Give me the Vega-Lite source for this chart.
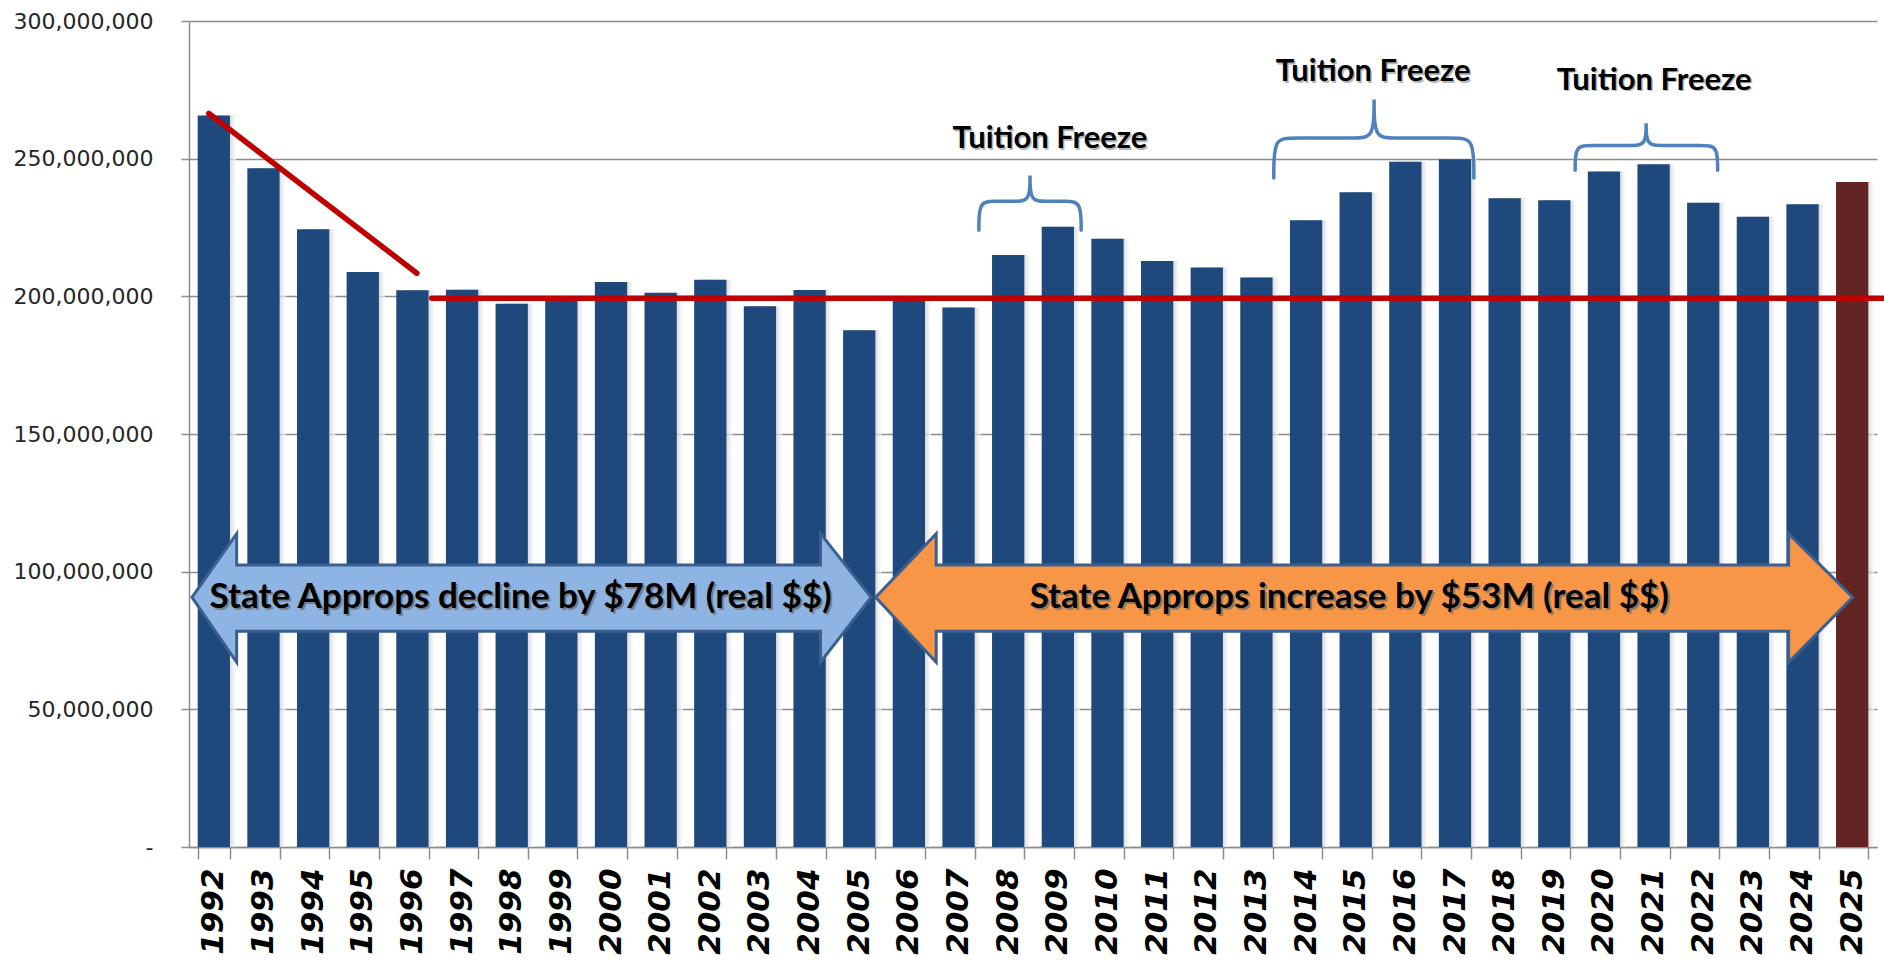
{
  "$schema": "https://vega.github.io/schema/vega-lite/v6.json",
  "autosize": {"type": "none"},
  "padding": {"left": 189, "top": 21, "right": 7, "bottom": 119},
  "width": 1688,
  "height": 826,
  "background": "white",
  "config": {"view": {"stroke": null}, "font": "DejaVu Sans"},
  "datasets": {
    "bars": [
      {"year": "1992", "value": 265700000, "kind": "actual"},
      {"year": "1993", "value": 246500000, "kind": "actual"},
      {"year": "1994", "value": 224400000, "kind": "actual"},
      {"year": "1995", "value": 208800000, "kind": "actual"},
      {"year": "1996", "value": 202200000, "kind": "actual"},
      {"year": "1997", "value": 202400000, "kind": "actual"},
      {"year": "1998", "value": 197300000, "kind": "actual"},
      {"year": "1999", "value": 198500000, "kind": "actual"},
      {"year": "2000", "value": 205200000, "kind": "actual"},
      {"year": "2001", "value": 201300000, "kind": "actual"},
      {"year": "2002", "value": 206000000, "kind": "actual"},
      {"year": "2003", "value": 196400000, "kind": "actual"},
      {"year": "2004", "value": 202300000, "kind": "actual"},
      {"year": "2005", "value": 187700000, "kind": "actual"},
      {"year": "2006", "value": 199800000, "kind": "actual"},
      {"year": "2007", "value": 195900000, "kind": "actual"},
      {"year": "2008", "value": 215000000, "kind": "actual"},
      {"year": "2009", "value": 225300000, "kind": "actual"},
      {"year": "2010", "value": 220900000, "kind": "actual"},
      {"year": "2011", "value": 212800000, "kind": "actual"},
      {"year": "2012", "value": 210500000, "kind": "actual"},
      {"year": "2013", "value": 206800000, "kind": "actual"},
      {"year": "2014", "value": 227600000, "kind": "actual"},
      {"year": "2015", "value": 237800000, "kind": "actual"},
      {"year": "2016", "value": 248900000, "kind": "actual"},
      {"year": "2017", "value": 249800000, "kind": "actual"},
      {"year": "2018", "value": 235600000, "kind": "actual"},
      {"year": "2019", "value": 234900000, "kind": "actual"},
      {"year": "2020", "value": 245300000, "kind": "actual"},
      {"year": "2021", "value": 248000000, "kind": "actual"},
      {"year": "2022", "value": 234000000, "kind": "actual"},
      {"year": "2023", "value": 228900000, "kind": "actual"},
      {"year": "2024", "value": 233400000, "kind": "actual"},
      {"year": "2025", "value": 241500000, "kind": "current"}
    ],
    "trend": [
      {"line": "decline", "pos": 0.40, "value": 266400000},
      {"line": "decline", "pos": 4.59, "value": 208400000},
      {"line": "flat", "pos": 4.89, "value": 199300000},
      {"line": "flat", "pos": 34.14, "value": 199300000}
    ],
    "braces": [
      {"brace": "b1", "i": 1, "pos": 15.91, "value": 224000000},
      {"brace": "b1", "i": 2, "pos": 15.91, "value": 224000000},
      {"brace": "b1", "i": 3, "pos": 15.91, "value": 234500000},
      {"brace": "b1", "i": 4, "pos": 16.21, "value": 234500000},
      {"brace": "b1", "i": 5, "pos": 16.64, "value": 234500000},
      {"brace": "b1", "i": 6, "pos": 16.94, "value": 234500000},
      {"brace": "b1", "i": 7, "pos": 16.94, "value": 243900000},
      {"brace": "b1", "i": 8, "pos": 16.94, "value": 243900000},
      {"brace": "b1", "i": 9, "pos": 16.94, "value": 243900000},
      {"brace": "b1", "i": 10, "pos": 16.94, "value": 234500000},
      {"brace": "b1", "i": 11, "pos": 17.24, "value": 234500000},
      {"brace": "b1", "i": 12, "pos": 17.67, "value": 234500000},
      {"brace": "b1", "i": 13, "pos": 17.97, "value": 234500000},
      {"brace": "b1", "i": 14, "pos": 17.97, "value": 224000000},
      {"brace": "b1", "i": 15, "pos": 17.97, "value": 224000000},
      {"brace": "b2", "i": 1, "pos": 21.85, "value": 243000000},
      {"brace": "b2", "i": 2, "pos": 21.85, "value": 243000000},
      {"brace": "b2", "i": 3, "pos": 21.85, "value": 257500000},
      {"brace": "b2", "i": 4, "pos": 22.2, "value": 257500000},
      {"brace": "b2", "i": 5, "pos": 23.52, "value": 257500000},
      {"brace": "b2", "i": 6, "pos": 23.87, "value": 257500000},
      {"brace": "b2", "i": 7, "pos": 23.87, "value": 271500000},
      {"brace": "b2", "i": 8, "pos": 23.87, "value": 271500000},
      {"brace": "b2", "i": 9, "pos": 23.87, "value": 271500000},
      {"brace": "b2", "i": 10, "pos": 23.87, "value": 257500000},
      {"brace": "b2", "i": 11, "pos": 24.22, "value": 257500000},
      {"brace": "b2", "i": 12, "pos": 25.53, "value": 257500000},
      {"brace": "b2", "i": 13, "pos": 25.88, "value": 257500000},
      {"brace": "b2", "i": 14, "pos": 25.88, "value": 243000000},
      {"brace": "b2", "i": 15, "pos": 25.88, "value": 243000000},
      {"brace": "b3", "i": 1, "pos": 27.92, "value": 245800000},
      {"brace": "b3", "i": 2, "pos": 27.92, "value": 245800000},
      {"brace": "b3", "i": 3, "pos": 27.92, "value": 254800000},
      {"brace": "b3", "i": 4, "pos": 28.22, "value": 254800000},
      {"brace": "b3", "i": 5, "pos": 29.05, "value": 254800000},
      {"brace": "b3", "i": 6, "pos": 29.35, "value": 254800000},
      {"brace": "b3", "i": 7, "pos": 29.35, "value": 262900000},
      {"brace": "b3", "i": 8, "pos": 29.35, "value": 262900000},
      {"brace": "b3", "i": 9, "pos": 29.35, "value": 262900000},
      {"brace": "b3", "i": 10, "pos": 29.35, "value": 254800000},
      {"brace": "b3", "i": 11, "pos": 29.65, "value": 254800000},
      {"brace": "b3", "i": 12, "pos": 30.49, "value": 254800000},
      {"brace": "b3", "i": 13, "pos": 30.79, "value": 254800000},
      {"brace": "b3", "i": 14, "pos": 30.79, "value": 245800000},
      {"brace": "b3", "i": 15, "pos": 30.79, "value": 245800000}
    ],
    "arrows": [
      {"arrow": "decline", "pos": 0.06, "value": 90700000, "value2": 90700000},
      {"arrow": "decline", "pos": 0.96, "value": 113800000, "value2": 67100000},
      {"arrow": "decline", "pos": 0.96, "value": 102400000, "value2": 78400000},
      {"arrow": "decline", "pos": 12.72, "value": 102400000, "value2": 78400000},
      {"arrow": "decline", "pos": 12.72, "value": 113800000, "value2": 67100000},
      {"arrow": "decline", "pos": 13.74, "value": 90700000, "value2": 90700000},
      {"arrow": "increase", "pos": 13.83, "value": 90700000, "value2": 90700000},
      {"arrow": "increase", "pos": 15.05, "value": 113800000, "value2": 67100000},
      {"arrow": "increase", "pos": 15.05, "value": 102400000, "value2": 78400000},
      {"arrow": "increase", "pos": 32.22, "value": 102400000, "value2": 78400000},
      {"arrow": "increase", "pos": 32.22, "value": 113800000, "value2": 67100000},
      {"arrow": "increase", "pos": 33.51, "value": 90700000, "value2": 90700000}
    ],
    "arrowLabels": [
      {"pos": 6.68, "value": 90700000, "label": "State Approps decline by $78M (real $$)"},
      {"pos": 23.37, "value": 90700000, "label": "State Approps increase by $53M (real $$)"}
    ],
    "freezeLabels": [
      {"pos": 17.34, "value": 257000000, "label": "Tuition Freeze"},
      {"pos": 23.85, "value": 281300000, "label": "Tuition Freeze"},
      {"pos": 29.51, "value": 278300000, "label": "Tuition Freeze"}
    ]
  },
  "encoding": {
    "y": {
      "field": "value", "type": "quantitative",
      "scale": {"domain": [0, 300000000]},
      "axis": {
        "title": null,
        "values": [0, 50000000, 100000000, 150000000, 200000000, 250000000, 300000000],
        "labelExpr": "datum.value == 0 ? '-\u00a0\u00a0\u00a0\u00a0' : format(datum.value, ',')",
        "labelFont": "DejaVu Sans", "labelFontSize": 22, "labelColor": "#262626",
        "labelPadding": 28, "tickSize": 8, "tickColor": "#8c8c8c", "tickWidth": 1.5,
        "domainColor": "#8c8c8c", "domainWidth": 1.5,
        "grid": true, "gridColor": "#8c8c8c", "gridWidth": 1.5
      }
    }
  },
  "layer": [
    {
      "data": {"name": "bars"},
      "mark": {
        "type": "bar",
        "xOffset": 6,
        "fill": {
          "gradient": "linear", "x1": 0, "x2": 1, "y1": 0, "y2": 0,
          "stops": [
            {"offset": 0, "color": "#a0a0a0"},
            {"offset": 0.72, "color": "#b4b4b4"},
            {"offset": 1, "color": "#ffffff"}
          ]
        },
        "opacity": 0.7
      },
      "encoding": {
        "x": {"field": "year", "type": "ordinal", "scale": {"paddingInner": 0.35, "paddingOuter": 0.175}, "axis": null}
      }
    },
    {
      "data": {"name": "bars"},
      "mark": {"type": "bar"},
      "encoding": {
        "x": {
          "field": "year", "type": "ordinal",
          "scale": {"paddingInner": 0.35, "paddingOuter": 0.175},
          "axis": {
            "title": null, "tickBand": "extent", "labelAngle": -90,
            "labelFont": "DejaVu Sans", "labelFontSize": 31, "labelFontWeight": "bold",
            "labelFontStyle": "italic", "labelColor": "#000000", "labelPadding": 9,
            "tickSize": 12, "tickColor": "#8c8c8c", "tickWidth": 1.5,
            "domainColor": "#8c8c8c", "domainWidth": 1.5, "grid": false
          }
        },
        "color": {
          "field": "kind", "type": "nominal",
          "scale": {"domain": ["actual", "current"], "range": ["#1F497D", "#632523"]},
          "legend": null
        }
      }
    },
    {
      "data": {"name": "trend"},
      "mark": {"type": "line", "color": "#C00000", "strokeWidth": 5.5, "strokeCap": "round"},
      "encoding": {
        "x": {"field": "pos", "type": "quantitative", "scale": {"domain": [0, 34], "nice": false, "zero": false}, "axis": null},
        "detail": {"field": "line", "type": "nominal"}
      }
    },
    {
      "data": {"name": "braces"},
      "mark": {"type": "line", "interpolate": "basis", "color": "#4F81BD", "strokeWidth": 3.5, "strokeCap": "round"},
      "encoding": {
        "x": {"field": "pos", "type": "quantitative", "scale": {"domain": [0, 34], "nice": false, "zero": false}, "axis": null},
        "detail": {"field": "brace", "type": "nominal"},
        "order": {"field": "i", "type": "quantitative"}
      }
    },
    {
      "data": {"name": "arrows"},
      "mark": {"type": "area", "stroke": "#3B5F8F", "strokeWidth": 3, "strokeJoin": "miter", "opacity": 1},
      "encoding": {
        "x": {"field": "pos", "type": "quantitative", "scale": {"domain": [0, 34], "nice": false, "zero": false}, "axis": null},
        "y2": {"field": "value2"},
        "fill": {
          "field": "arrow", "type": "nominal",
          "scale": {"domain": ["decline", "increase"], "range": ["#8DB4E2", "#F79646"]},
          "legend": null
        },
        "detail": {"field": "arrow", "type": "nominal"}
      }
    },
    {
      "data": {"name": "arrowLabels"},
      "mark": {"type": "text", "font": "Lato", "fontWeight": "bold", "fontSize": 35, "color": "#6a6a6a", "opacity": 0.7, "dx": 2, "dy": 2},
      "encoding": {
        "x": {"field": "pos", "type": "quantitative", "scale": {"domain": [0, 34], "nice": false, "zero": false}, "axis": null},
        "text": {"field": "label"}
      }
    },
    {
      "data": {"name": "arrowLabels"},
      "mark": {"type": "text", "font": "Lato", "fontWeight": "bold", "fontSize": 35, "color": "#000000"},
      "encoding": {
        "x": {"field": "pos", "type": "quantitative", "scale": {"domain": [0, 34], "nice": false, "zero": false}, "axis": null},
        "text": {"field": "label"}
      }
    },
    {
      "data": {"name": "freezeLabels"},
      "mark": {"type": "text", "font": "Lato", "fontWeight": "bold", "fontSize": 31, "color": "#8a8a8a", "opacity": 0.6, "dx": 1.5, "dy": 1.5},
      "encoding": {
        "x": {"field": "pos", "type": "quantitative", "scale": {"domain": [0, 34], "nice": false, "zero": false}, "axis": null},
        "text": {"field": "label"}
      }
    },
    {
      "data": {"name": "freezeLabels"},
      "mark": {"type": "text", "font": "Lato", "fontWeight": "bold", "fontSize": 31, "color": "#000000"},
      "encoding": {
        "x": {"field": "pos", "type": "quantitative", "scale": {"domain": [0, 34], "nice": false, "zero": false}, "axis": null},
        "text": {"field": "label"}
      }
    }
  ],
  "resolve": {"scale": {"x": "independent"}}
}
